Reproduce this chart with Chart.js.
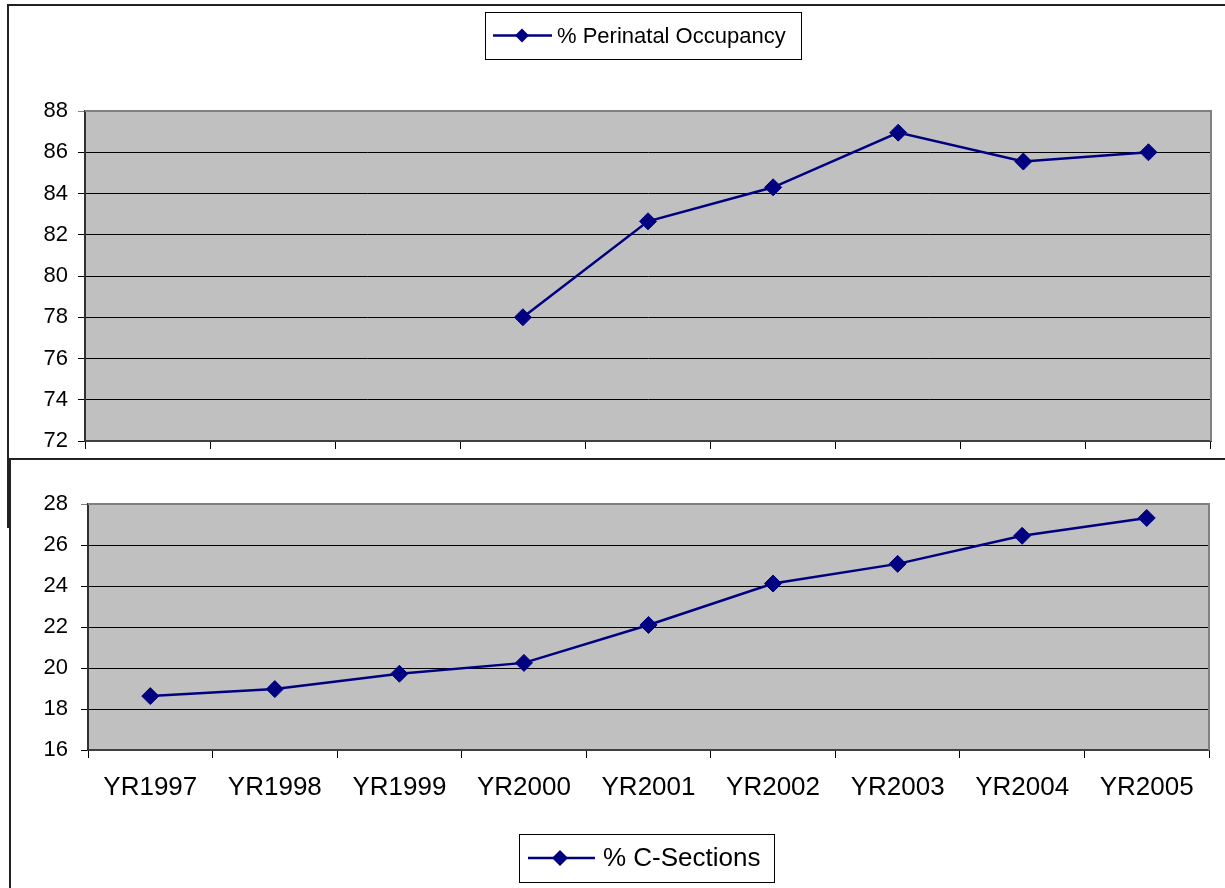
<!DOCTYPE html>
<html>
<head>
<meta charset="utf-8">
<script src="https://cdn.jsdelivr.net/npm/chart.js@4.4.1/dist/chart.umd.min.js"></script>
<style>
  body { margin: 0; background: #fff; width: 1225px; height: 888px; overflow: hidden; position: relative; }
  .frame { position: absolute; border-left: 2px solid #222; border-top: 2px solid #222; }
  #frameTop { left: 7px; top: 4px; width: 1300px; height: 522px; }
  #frameBottom { left: 9px; top: 458px; width: 1300px; height: 500px; background: #fff; }
  canvas { position: absolute; left: 0; }
  #occChart { top: 0; }
  #csecChart { top: 460px; }
</style>
</head>
<body>
<div class="frame" id="frameTop"></div>
<canvas id="occChart" width="1225" height="467"></canvas>
<div class="frame" id="frameBottom"></div>
<canvas id="csecChart" width="1225" height="428"></canvas>
<script>
const years = ['YR1997', 'YR1998', 'YR1999', 'YR2000', 'YR2001', 'YR2002', 'YR2003', 'YR2004', 'YR2005'];
const occupancy = [null, null, null, 78.0, 82.65, 84.3, 86.95, 85.55, 86.0];
const cSections = [18.63, 18.97, 19.72, 20.25, 22.1, 24.12, 25.08, 26.45, 27.32];
const occRange = [72, 88];
const csecRange = [16, 28];
const tickStep = 2;

const FONT = '"Liberation Sans", Arial, sans-serif';
const NAVY = '#000080';

// grey plot area with a grey frame on the top and right
const plotFrame = {
  id: 'plotFrame',
  beforeDraw(chart) {
    const a = chart.chartArea, ctx = chart.ctx;
    ctx.save();
    ctx.fillStyle = '#c0c0c0';
    ctx.fillRect(a.left, a.top, a.right - a.left, a.bottom - a.top);
    ctx.restore();
  },
  beforeDatasetsDraw(chart) {
    const a = chart.chartArea, ctx = chart.ctx;
    ctx.save();
    ctx.strokeStyle = '#808080';
    ctx.lineWidth = 2;
    ctx.beginPath();
    ctx.moveTo(a.left, a.top);
    ctx.lineTo(a.right, a.top);
    ctx.lineTo(a.right, a.bottom);
    ctx.stroke();
    ctx.restore();
  }
};

// boxed legend: line sample with a diamond, then the series name
const boxLegend = {
  id: 'boxLegend',
  afterDraw(chart, args, o) {
    const ctx = chart.ctx;
    const cy = o.y + o.h / 2;
    ctx.save();
    ctx.fillStyle = '#fff';
    ctx.fillRect(o.x, o.y, o.w, o.h);
    ctx.strokeStyle = '#000';
    ctx.lineWidth = 1;
    ctx.strokeRect(o.x + 0.5, o.y + 0.5, o.w, o.h);

    ctx.strokeStyle = NAVY;
    ctx.lineWidth = 2.5;
    ctx.beginPath();
    ctx.moveTo(o.x + o.lineFrom, cy);
    ctx.lineTo(o.x + o.lineTo, cy);
    ctx.stroke();

    const mx = o.x + o.marker, r = o.radius;
    ctx.fillStyle = NAVY;
    ctx.beginPath();
    ctx.moveTo(mx, cy - r);
    ctx.lineTo(mx + r, cy);
    ctx.lineTo(mx, cy + r);
    ctx.lineTo(mx - r, cy);
    ctx.closePath();
    ctx.fill();

    ctx.fillStyle = '#000';
    ctx.font = o.fontSize + 'px ' + FONT;
    ctx.textBaseline = 'middle';
    ctx.fillText(chart.data.datasets[0].label, o.x + o.text, cy + 1);
    ctx.restore();
  }
};

function lineChart(id, label, values, range, cfg) {
  return new Chart(document.getElementById(id), {
    type: 'line',
    data: {
      labels: years,
      datasets: [{
        label: label,
        data: values,
        borderColor: NAVY,
        backgroundColor: NAVY,
        borderWidth: 2.5,
        pointStyle: 'rectRot',
        pointRadius: 8.5,
        pointHoverRadius: 8.5,
        pointBorderWidth: 1,
        pointBackgroundColor: NAVY,
        pointBorderColor: NAVY,
        tension: 0
      }]
    },
    options: {
      responsive: false,
      animation: false,
      layout: { padding: cfg.padding },
      plugins: {
        legend: { display: false },
        tooltip: { enabled: false },
        boxLegend: cfg.legend
      },
      scales: {
        x: {
          offset: true,
          grid: { offset: true, drawOnChartArea: false, drawTicks: true, tickLength: 8, color: '#000' },
          border: { color: '#404040', width: 2 },
          ticks: {
            display: cfg.showLabels,
            color: '#000',
            padding: 14,
            maxRotation: 0,
            font: { family: FONT, size: 26 }
          },
          afterFit(scale) { scale.height = cfg.xHeight; }
        },
        y: {
          min: range[0],
          max: range[1],
          grid: {
            tickLength: 7,
            color: ctx => ctx.tick && ctx.tick.value === range[1] ? '#808080' : '#000'
          },
          border: { color: '#303030', width: 2 },
          ticks: {
            stepSize: tickStep,
            color: '#000',
            padding: cfg.yPad,
            font: { family: FONT, size: 22 }
          },
          afterFit(scale) { scale.width = cfg.yWidth; }
        }
      }
    },
    plugins: [plotFrame, boxLegend]
  });
}

lineChart('occChart', '% Perinatal Occupancy', occupancy, occRange, {
  padding: { top: 111, right: 14, left: 0, bottom: 0 },
  yWidth: 85,
  yPad: 10,
  xHeight: 26,
  showLabels: false,
  legend: { x: 485, y: 12, w: 316, h: 47, lineFrom: 8, lineTo: 67, marker: 37, radius: 7, text: 72, fontSize: 22 }
});

lineChart('csecChart', '% C-Sections', cSections, csecRange, {
  padding: { top: 44, right: 16, left: 0, bottom: 0 },
  yWidth: 88,
  yPad: 13,
  xHeight: 138,
  showLabels: true,
  legend: { x: 519, y: 374, w: 255, h: 48, lineFrom: 9, lineTo: 76, marker: 41, radius: 8, text: 84, fontSize: 26 }
});
</script>
</body>
</html>
